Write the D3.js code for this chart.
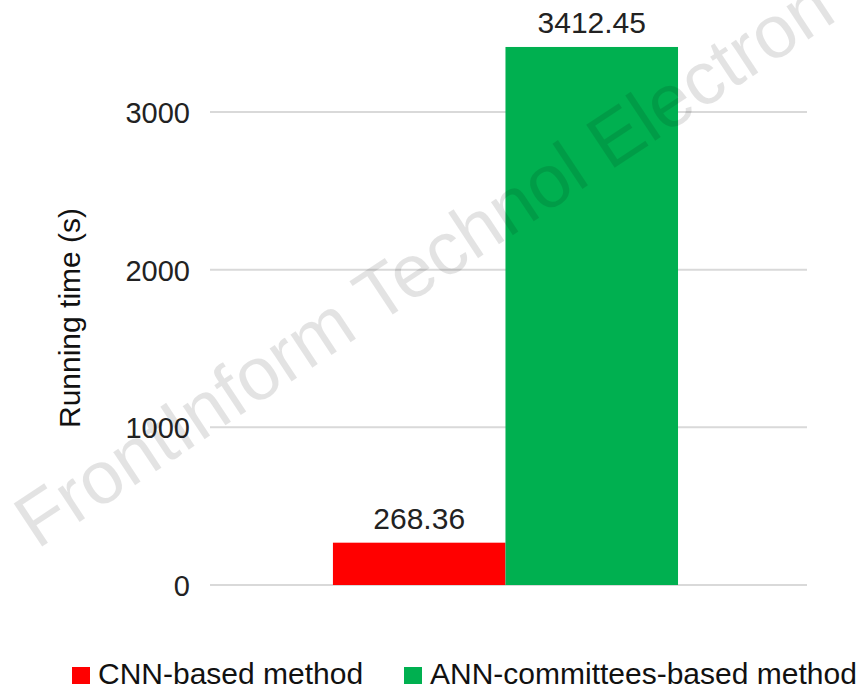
<!DOCTYPE html>
<html>
<head>
<meta charset="utf-8">
<script src="https://cdn.jsdelivr.net/npm/d3@7/dist/d3.min.js"></script>
<style>
  html, body { margin: 0; padding: 0; background: #fff; }
  svg { display: block; font-family: "Liberation Sans", Arial, sans-serif; }
</style>
</head>
<body>
<svg id="chart" width="862" height="690"></svg>
<script>
// ---- data ----
const groups = ["Running time"];
const seriesNames = ["CNN-based method", "ANN-committees-based method"];
const seriesValues = [268.36, 3412.45];
const seriesColors = ["#ff0000", "#00b050"];
const yTicks = [0, 1000, 2000, 3000];
const yTitle = "Running time (s)";
const watermarkText = "FrontInform Technol Electron";

const svg = d3.select("#chart");

const plot = { left: 210, right: 807, top: 112, bottom: 585 };

const y = d3.scaleLinear().domain([0, 3000]).range([plot.bottom, plot.top]);
const x0 = d3.scaleBand().domain(groups).range([plot.left, plot.right])
  .paddingInner(0).paddingOuter(0.365).align(0.488);
const x1 = d3.scaleBand().domain(seriesNames).range([0, x0.bandwidth()]).padding(0);

// gridlines
svg.append("g").selectAll("line").data(yTicks).join("line")
  .attr("x1", plot.left).attr("x2", plot.right)
  .attr("y1", d => y(d)).attr("y2", d => y(d))
  .attr("stroke", "#d9d9d9").attr("stroke-width", 2);

// y axis labels via d3 axis
const yAxis = d3.axisLeft(y).tickValues(yTicks).tickSize(0).tickPadding(0).tickFormat(d3.format("d"));
const ga = svg.append("g").attr("transform", `translate(190,0)`).call(yAxis);
ga.select(".domain").remove();
ga.selectAll("text").attr("font-size", 29).attr("fill", "#222")
  .attr("font-family", "Liberation Sans, Arial, sans-serif")
  .attr("dy", "0.36em");

// bars
const g = svg.append("g").attr("transform", `translate(${x0(groups[0])},0)`);
g.selectAll("rect").data(seriesNames).join("rect")
  .attr("x", d => x1(d))
  .attr("width", x1.bandwidth())
  .attr("y", (d, i) => y(seriesValues[i]))
  .attr("height", (d, i) => y(0) - y(seriesValues[i]))
  .attr("fill", (d, i) => seriesColors[i]);

// data labels
g.selectAll("text.lbl").data(seriesNames).join("text")
  .attr("class", "lbl")
  .attr("x", d => x1(d) + x1.bandwidth() / 2)
  .attr("y", (d, i) => y(seriesValues[i]) - 14)
  .attr("text-anchor", "middle")
  .attr("font-size", 30).attr("fill", "#222")
  .text((d, i) => seriesValues[i].toFixed(2));

// y title
svg.append("text")
  .attr("transform", "translate(80,318) rotate(-90)")
  .attr("text-anchor", "middle")
  .attr("font-size", 30).attr("fill", "#111")
  .text(yTitle);

// legend
const legendX = [72, 404];
const lg = svg.append("g");
seriesNames.forEach((name, i) => {
  lg.append("rect").attr("x", legendX[i]).attr("y", 667).attr("width", 18).attr("height", 17)
    .attr("fill", seriesColors[i]);
  lg.append("text").attr("x", legendX[i] + 26).attr("y", 684)
    .attr("font-size", 30).attr("fill", "#111").text(name);
});

// watermark
svg.append("text")
  .attr("transform", "translate(37,550) rotate(-33.5)")
  .attr("font-size", 75)
  .attr("fill", "#000").attr("fill-opacity", 0.11)
  .text(watermarkText);
</script>
</body>
</html>
